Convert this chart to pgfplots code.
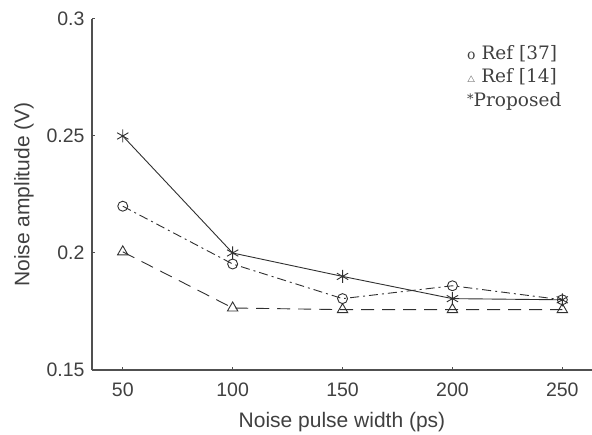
\documentclass[border=0pt]{standalone}
\usepackage{fontspec}
\setmainfont{Liberation Sans}
\newfontfamily\legfont{DejaVu Serif}
\usepackage{pgfplots}
\pgfplotsset{compat=1.18}
\definecolor{axgray}{HTML}{505050}
\definecolor{txtgray}{HTML}{404040}
\definecolor{ln}{HTML}{303030}
\begin{document}
\begin{tikzpicture}
\begin{axis}[
  at={(0,0)}, anchor=south west,
  scale only axis,
  width=500pt, height=351pt,
  xmin=36, xmax=263.5,
  ymin=0.15, ymax=0.3,
  axis x line*=bottom, axis y line*=left,
  axis line style={axgray, line width=1.4pt, -},
  xtick={50,100,150,200,250},
  ytick={0.15,0.2,0.25,0.3},
  tick align=inside,
  major tick length=3pt,
  tick style={axgray, line width=1pt},
  ticklabel style={font=\fontsize{19.5}{22}\selectfont, text=txtgray},
  /pgf/number format/assume math mode=true,
  xticklabel style={yshift=-9pt},
  yticklabel style={xshift=-4pt},
  xlabel={Noise pulse width (ps)},
  ylabel={Noise amplitude (V)},
  label style={font=\fontsize{21}{24}\selectfont, text=txtgray},
  xlabel style={yshift=-9pt},
  ylabel style={yshift=6pt},
  clip=false,
]
% Ref [37]
\addplot[ln, line width=0.9pt, dash pattern=on 9pt off 4pt on 2pt off 4pt,
  mark=o, mark size=5pt, mark options={solid, line width=0.9pt}]
  coordinates {(50,0.220) (100,0.1953) (150,0.1805) (200,0.186) (250,0.180)};
% Ref [14]
\addplot[ln, line width=0.9pt, dash pattern=on 13pt off 8pt,
  mark=triangle, mark size=6pt, mark options={solid, line width=0.9pt}]
  coordinates {(50,0.2005) (100,0.1765) (150,0.1758) (200,0.1758) (250,0.1758)};
% Proposed
\addplot[ln, line width=0.9pt,
  mark=asterisk, mark size=6.5pt, mark options={solid, line width=0.9pt}]
  coordinates {(50,0.250) (100,0.200) (150,0.190) (200,0.1805) (250,0.180)};
\end{axis}
\begin{scope}[every node/.style={anchor=base west, inner sep=0pt, text=txtgray,
    font=\legfont\fontsize{18.5}{20}\selectfont}]
\node at (375pt,310pt) {{\fontsize{14}{16}\selectfont o} Ref [37]};
\node at (375pt,287pt) {$\scriptscriptstyle\triangle$ Ref [14]};
\node at (375pt,263pt) {\raisebox{3pt}{\fontsize{13}{14}\selectfont *}Proposed};
\end{scope}
\pgfresetboundingbox
\path (-92pt,-64pt) rectangle (500pt,370pt);
\end{tikzpicture}
\end{document}
